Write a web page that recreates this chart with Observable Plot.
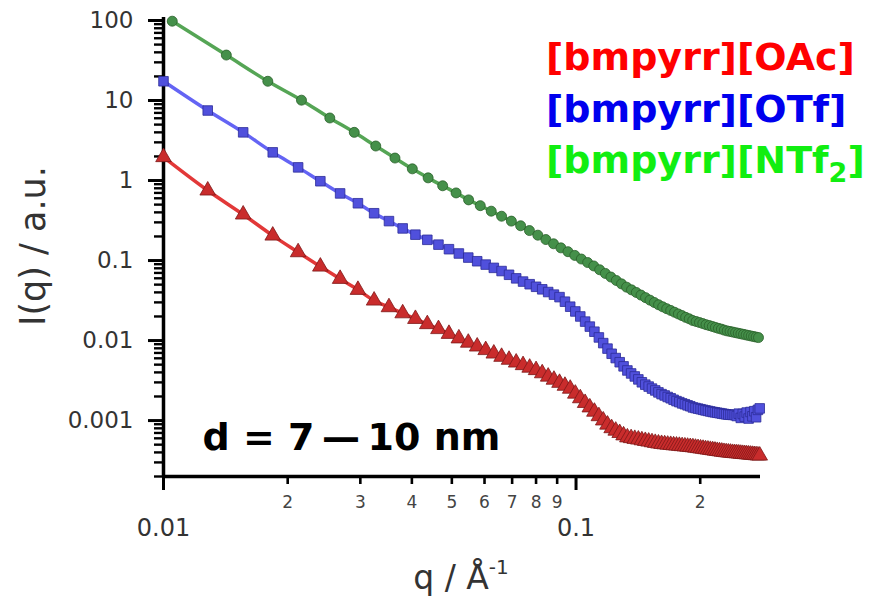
<!DOCTYPE html>
<html>
<head>
<meta charset="utf-8">
<script src="https://cdn.jsdelivr.net/npm/d3@7"></script>
<script src="https://cdn.jsdelivr.net/npm/@observablehq/plot@0.6"></script>
<style>
  html, body { margin: 0; padding: 0; background: #fff; }
  #wrap { position: relative; width: 871px; height: 601px; overflow: hidden; }
  .legend { position: absolute; left: 546px; font-family: "DejaVu Sans", Verdana, sans-serif;
            font-weight: bold; font-size: 38px; line-height: 38px; white-space: nowrap; }
  .legend sub { font-size: 27px; line-height: 0; vertical-align: 0; position: relative; top: 9px; }
  #xlabel { position: absolute; left: 461px; top: 561px; transform: translateX(-50%);
            font-family: "DejaVu Sans", Verdana, sans-serif; font-size: 33px; line-height: 33px;
            color: #333; white-space: nowrap; }
  #xlabel sup { font-size: 20px; line-height: 0; vertical-align: 0; position: relative; top: -15px; }
  #ylabel { position: absolute; left: 33px; top: 246px; transform: translate(-50%, -50%) rotate(-90deg);
            font-family: "DejaVu Sans", Verdana, sans-serif; font-size: 35px; line-height: 35px;
            color: #333; white-space: nowrap; }
</style>
</head>
<body>
<div id="wrap">
  <div class="legend" style="top:38px;color:#ff0000">[bmpyrr][OAc]</div>
  <div class="legend" style="top:90px;color:#0000ee">[bmpyrr][OTf]</div>
  <div class="legend" style="top:141px;color:#11ee11">[bmpyrr][NTf<sub>2</sub>]</div>
  <div id="xlabel">q / Å<sup>-1</sup></div>
  <div id="ylabel">I(q) / a.u.</div>
</div>
<script>
// SAXS curves, q in Å^-1 and I(q) in arbitrary units

// [bmpyrr][NTf2]
const qNTf2 = [0.0105,0.0142,0.0179,0.0216,0.0253,0.0290,0.0327,0.0364,0.0401,0.0438,
  0.0475,0.0512,0.0549,0.0586,0.0623,0.0660,0.0697,0.0734,0.0771,0.0808,
  0.0845,0.0882,0.0919,0.0956,0.0993,0.1030,0.1067,0.1104,0.1141,0.1178,
  0.1215,0.1252,0.1289,0.1326,0.1363,0.1400,0.1437,0.1474,0.1511,0.1548,
  0.1585,0.1622,0.1659,0.1696,0.1733,0.1770,0.1807,0.1844,0.1881,0.1918,
  0.1955,0.1992,0.2029,0.2066,0.2103,0.2140,0.2177,0.2214,0.2251,0.2288,
  0.2325,0.2362,0.2399,0.2436,0.2473,0.2510,0.2547,0.2584,0.2621,0.2658,
  0.2695,0.2732,0.2769];
const iNTf2 = [98,37,17.4,10.1,6.05,4.0,2.7,1.91,1.40,1.08,
  0.86,0.70,0.573,0.485,0.414,0.358,0.311,0.272,0.237,0.2075,
  0.183,0.162,0.144,0.129,0.116,0.1045,0.0945,0.0856,0.0767,0.069,
  0.0622,0.0563,0.0511,0.0465,0.043,0.0399,0.037,0.0344,0.032,0.0299,
  0.028,0.0264,0.025,0.0238,0.0226,0.0215,0.0205,0.0195,0.0187,0.0178,
  0.0173,0.0168,0.0163,0.0158,0.0154,0.015,0.0146,0.0142,0.0139,0.0135,
  0.0132,0.013,0.01276,0.01255,0.01234,0.01214,0.01195,0.01176,0.01158,0.0114,
  0.01122,0.01106,0.0109];

// q grid shared by [bmpyrr][OTf] and [bmpyrr][OAc]
const qFine = [0.0100,0.0128,0.0156,0.0184,0.0212,0.0240,0.0268,0.0296,0.0324,0.0352,
  0.0380,0.0408,0.0436,0.0464,0.0492,0.0520,0.0548,0.0576,0.0604,0.0632,
  0.0660,0.0688,0.0716,0.0744,0.0772,0.0800,0.0828,0.0856,0.0884,0.0912,
  0.0940,0.0968,0.0996,0.1024,0.1052,0.1080,0.1108,0.1136,0.1164,0.1192,
  0.1220,0.1248,0.1276,0.1304,0.1332,0.1360,0.1388,0.1416,0.1444,0.1472,
  0.1500,0.1528,0.1556,0.1584,0.1612,0.1640,0.1668,0.1696,0.1724,0.1752,
  0.1780,0.1808,0.1836,0.1864,0.1892,0.1920,0.1948,0.1976,0.2004,0.2032,
  0.2060,0.2088,0.2116,0.2144,0.2172,0.2200,0.2228,0.2256,0.2284,0.2312,
  0.2340,0.2368,0.2396,0.2424,0.2452,0.2480,0.2508,0.2536,0.2564,0.2592,
  0.2620,0.2648,0.2676,0.2704,0.2732,0.2760,0.2788];

// [bmpyrr][OTf]
const iOTf = [17.4,7.5,4.0,2.25,1.46,0.98,0.69,0.52,0.39,0.311,
  0.252,0.2106,0.1816,0.158,0.1386,0.1225,0.1089,0.098,0.089,0.081,
  0.0739,0.0664,0.0599,0.0546,0.0506,0.047,0.0437,0.0404,0.0375,0.0349,
  0.0306,0.0265,0.0231,0.02,0.01725,0.01494,0.0129,0.01094,0.00929,0.00793,
  0.00684,0.00604,0.00536,0.00476,0.00423,0.00388,0.00356,0.00327,0.00301,0.00281,
  0.00266,0.00251,0.00238,0.00225,0.00214,0.00206,0.00197,0.0019,0.00182,0.00175,
  0.0017,0.00164,0.0016,0.00155,0.00151,0.00146,0.001434,0.00141,0.001386,0.001363,
  0.00134,0.00132,0.0013,0.00128,0.001267,0.001252,0.001238,0.001224,0.00121,0.001197,
  0.001187,0.001182,0.001178,0.001173,0.00114,0.00122,0.00108,0.00121,0.00112,0.00126,
  0.00106,0.00128,0.00113,0.00131,0.00110,0.00136,0.00142];

// [bmpyrr][OAc]
const iOAc = [1.96,0.75,0.376,0.205,0.127,0.084,0.059,0.043,0.0316,0.0261,
  0.0219,0.01863,0.01603,0.0139,0.01212,0.01064,0.0094,0.00842,0.0076,0.00688,
  0.00626,0.00575,0.00531,0.00493,0.00458,0.00427,0.0039,0.00354,0.00324,0.00296,
  0.00272,0.0025,0.00217,0.0019,0.00166,0.00146,0.00129,0.001134,0.001003,0.00089,
  0.000803,0.000748,0.000699,0.000653,0.000616,0.000603,0.00059,0.000579,0.000567,0.000556,
  0.000546,0.000536,0.000526,0.000517,0.00051,0.000505,0.0005,0.000496,0.000491,0.000487,
  0.000483,0.000479,0.000475,0.000471,0.000467,0.000464,0.000458,0.000453,0.000448,0.000444,
  0.000439,0.000434,0.00043,0.000426,0.000421,0.000417,0.000413,0.000409,0.000405,0.000402,
  0.000399,0.000397,0.000394,0.000392,0.00039,0.000388,0.000385,0.000383,0.000381,0.000379,
  0.000377,0.000375,0.000373,0.000371,0.000369,0.000367,0.000365];

// axis ticks
const yMajor = [0.001, 0.01, 0.1, 1, 10, 100];
const yMajorLabels = ["0.001", "0.01", "0.1", "1", "10", "100"];
const xMajor = [0.01, 0.1];
const xMajorLabels = ["0.01", "0.1"];
const xMinor = [0.02, 0.03, 0.04, 0.05, 0.06, 0.07, 0.08, 0.09, 0.2];
const xMinorLabels = ["2", "3", "4", "5", "6", "7", "8", "9", "2"];
const yMinor = [];
for (let e = -4; e <= 1; e++) for (let m = 2; m <= 9; m++) yMinor.push(+(m * 10 ** e).toPrecision(3));

const rows = (qs, is) => qs.map((q, i) => ({q, I: is[i]}));
const oac = rows(qFine, iOAc);
const otf = rows(qFine, iOTf);
const ntf2 = rows(qNTf2, iNTf2);

const series = [
  {data: oac,  line: "#e23838", fill: "#c92c2c", edge: "#7e1818", symbol: "triangle", r: 5.8},
  {data: otf,  line: "#6464f4", fill: "#5050dc", edge: "#2c2c98", symbol: "square",   r: 5.4},
  {data: ntf2, line: "#55a555", fill: "#45904a", edge: "#2a602a", symbol: "circle",   r: 5}
];

const label = (ticks, labels) => d => labels[ticks.findIndex(t => Math.abs(t - d) < t * 1e-6)];

const chart = Plot.plot({
  width: 871,
  height: 601,
  marginLeft: 163,
  marginRight: 111,
  marginTop: 20,
  marginBottom: 125,
  style: {fontFamily: "'DejaVu Sans', Verdana, sans-serif", background: "transparent", overflow: "visible"},
  x: {type: "log", domain: [0.01, 0.28], label: null},
  y: {type: "log", domain: [0.0002, 100], label: null},
  marks: [
    // y axis: minor and major ticks, then labels
    Plot.axisY({ticks: yMinor, tickSize: 9, tickFormat: () => "", stroke: "#000", strokeWidth: 2.4, label: null}),
    Plot.axisY({ticks: yMajor, tickSize: 15, tickFormat: () => "", stroke: "#000", strokeWidth: 3, label: null}),
    Plot.axisY({ticks: yMajor, tickSize: 0, tickPadding: 30, tickFormat: label(yMajor, yMajorLabels),
      fontSize: 23, fill: "#333", label: null}),
    // x axis: minor ticks with digit labels, decade ticks with full labels
    Plot.axisX({ticks: xMinor, tickSize: 8, tickPadding: 11, tickFormat: label(xMinor, xMinorLabels),
      stroke: "#000", strokeWidth: 2.6, fill: "#444", fontSize: 17, label: null}),
    Plot.axisX({ticks: xMajor, tickSize: 14, tickPadding: 28, tickFormat: label(xMajor, xMajorLabels),
      stroke: "#000", strokeWidth: 3, fill: "#333", fontSize: 24, label: null}),
    Plot.ruleX([0.01], {stroke: "#000", strokeWidth: 3.5, insetTop: -3}),
    Plot.ruleY([0.0002], {stroke: "#000", strokeWidth: 3.5}),
    // curves: fitted line under the measured points
    ...series.flatMap(s => [
      Plot.line(s.data, {x: "q", y: "I", stroke: s.line, strokeWidth: 3.5, curve: "monotone-x"}),
      Plot.dot(s.data, {x: "q", y: "I", symbol: s.symbol, r: s.r, fill: s.fill, stroke: s.edge, strokeWidth: 0.8})
    ]),
    Plot.text(["d = 7\u2009\u2014\u200910 nm"], {text: d => d, frameAnchor: "top-left", textAnchor: "start",
      dx: 39, dy: 403, fontSize: 38, fontWeight: "bold", fill: "#000"})
  ]
});

document.getElementById("wrap").prepend(chart);
</script>
</body>
</html>
